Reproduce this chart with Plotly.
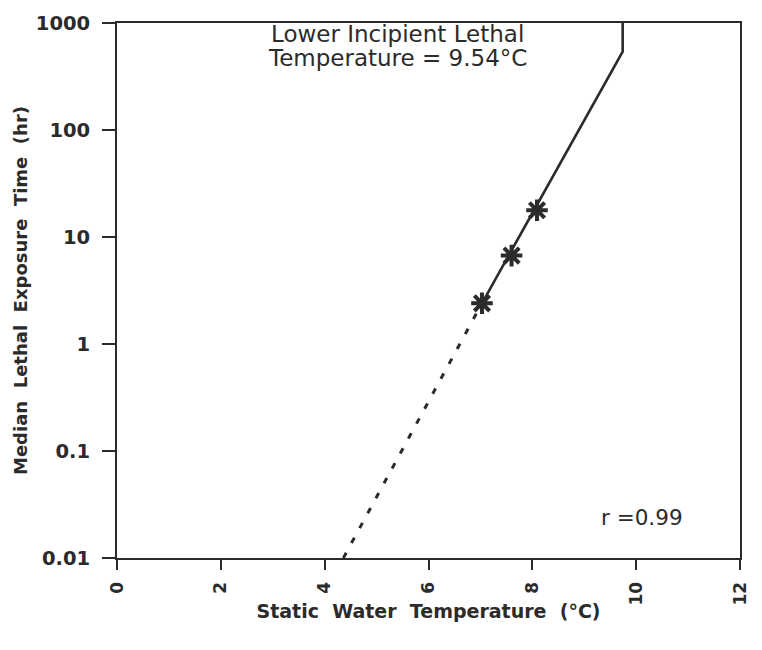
import plotly.graph_objects as go

# Observed data points (temperature °C, median lethal time hr)
obs_temp = [7.03, 7.60, 8.09]
obs_time = [2.4, 6.7, 17.8]

# Fitted regression line (solid part, within/above data) and vertical LILT cap
fit_temp = [7.03, 9.74, 9.74]
fit_time = [2.4, 540, 1000]

# Extrapolated (dashed) part of regression line
ext_temp = [4.36, 7.03]
ext_time = [0.01, 2.4]

y_ticks = [0.01, 0.1, 1, 10, 100, 1000]
y_ticktext = ["0.01", "0.1", "1", "10", "100", "1000"]
x_ticks = [0, 2, 4, 6, 8, 10, 12]

ink = "#2b2b2b"
txt_fam = "DejaVu Sans, sans-serif"

fig = go.Figure()
fig.add_trace(go.Scatter(x=ext_temp, y=ext_time, mode="lines",
                         line=dict(color=ink, width=3, dash="6px,11px"),
                         showlegend=False))
fig.add_trace(go.Scatter(x=fit_temp, y=fit_time, mode="lines",
                         line=dict(color=ink, width=2.6),
                         showlegend=False))
fig.add_trace(go.Scatter(x=obs_temp, y=obs_time, mode="markers",
                         marker=dict(symbol="asterisk", size=18,
                                     line=dict(color=ink, width=4)),
                         showlegend=False))

fig.add_annotation(x=5.40, y=2.90, xref="x", yref="y",
                   text="Lower Incipient Lethal",
                   showarrow=False, align="center",
                   font=dict(family=txt_fam, size=23, color=ink))
fig.add_annotation(x=5.40, y=2.675, xref="x", yref="y",
                   text="Temperature = 9.54°C",
                   showarrow=False, align="center",
                   font=dict(family=txt_fam, size=23, color=ink))
fig.add_annotation(x=10.12, y=-1.62, xref="x", yref="y",
                   text="r =0.99", showarrow=False,
                   font=dict(family=txt_fam, size=21.5, color=ink))

fig.update_layout(
    width=762, height=650,
    margin=dict(l=117, r=13, t=19, b=92),
    paper_bgcolor="white", plot_bgcolor="white",
    font=dict(family=txt_fam, color=ink),
)
fig.update_xaxes(
    range=[0, 12], tickvals=x_ticks, tickangle=-90,
    showline=True, linecolor=ink, linewidth=2, mirror=True,
    ticks="outside", ticklen=10, tickwidth=2, tickcolor=ink,
    ticklabelstandoff=5,
    showgrid=False, zeroline=False,
    tickfont=dict(family=txt_fam, size=17, color=ink, weight="bold"),
    title=dict(text="Static  Water  Temperature  (°C)", standoff=0,
               font=dict(family=txt_fam, size=19, color=ink, weight="bold")),
)
fig.update_yaxes(
    type="log", range=[-2, 3], tickvals=y_ticks, ticktext=y_ticktext,
    showline=True, linecolor=ink, linewidth=2, mirror=True,
    ticks="outside", ticklen=13, tickwidth=2, tickcolor=ink,
    ticklabelstandoff=8,
    showgrid=False, zeroline=False,
    tickfont=dict(family=txt_fam, size=19.5, color=ink, weight="bold"),
    title=dict(text="Median  Lethal  Exposure  Time  (hr)", standoff=4,
               font=dict(family=txt_fam, size=18, color=ink, weight="bold")),
)

fig.write_html("out.html")
